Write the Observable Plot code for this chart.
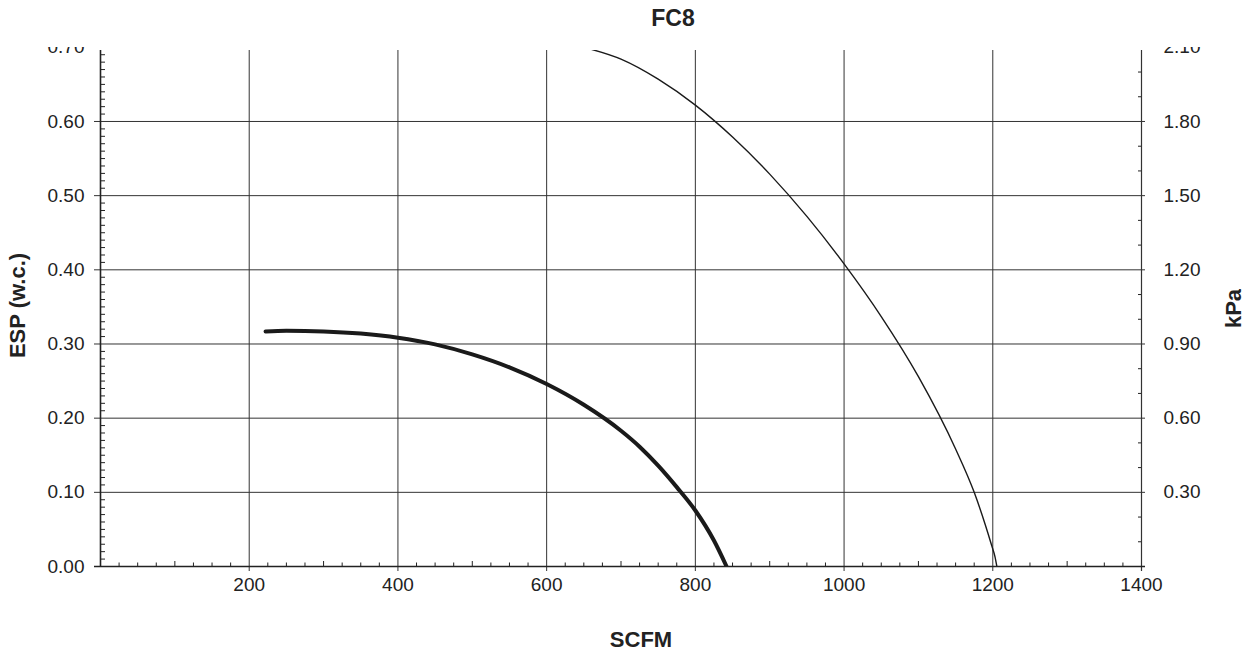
<!DOCTYPE html>
<html><head><meta charset="utf-8">
<script src="https://cdn.jsdelivr.net/npm/d3@7"></script>
<script src="https://cdn.jsdelivr.net/npm/@observablehq/plot@0.6"></script>
<style>
body{margin:0;background:#fff;font-family:"Liberation Sans",Arial,sans-serif;}
#wrap{position:relative;width:1247px;height:654px;overflow:hidden;background:#fff;}
#title{position:absolute;top:5px;left:0;width:1346px;text-align:center;font-weight:bold;font-size:23px;color:#222;}
#chart{position:absolute;top:47px;left:0;}
</style></head><body>
<div id="wrap"><div id="title">FC8</div><div id="chart"></div></div>
<script>
// Fan curve (thick)
const cfmLow = [222, 250, 300, 350, 400, 450, 500, 550, 600, 650, 700, 725, 750, 775, 800, 825, 842];
const espLow = [0.317, 0.318, 0.317, 0.314, 0.3085, 0.2995, 0.286, 0.2685, 0.246, 0.218, 0.183, 0.1615, 0.136, 0.107, 0.0755, 0.035, 0.0];
// Fan curve (thin)
const cfmHigh = [650, 700, 750, 800, 850, 900, 950, 1000, 1050, 1100, 1150, 1175, 1190, 1198, 1203, 1205.5];
const espHigh = [0.700, 0.684, 0.657, 0.622, 0.579, 0.529, 0.472, 0.408, 0.337, 0.256, 0.1585, 0.100, 0.056, 0.030, 0.013, 0.0];

const xTicks = [200, 400, 600, 800, 1000, 1200, 1400];
const yTicks = [0.0, 0.1, 0.2, 0.3, 0.4, 0.5, 0.6, 0.7];
const kpaTickPos = [0.1, 0.2, 0.3, 0.4, 0.5, 0.6, 0.7];
const kpaLabels = ["0.30", "0.60", "0.90", "1.20", "1.50", "1.80", "2.10"];

const low = cfmLow.map((c, i) => ({cfm: c, esp: espLow[i]}));
const high = cfmHigh.map((c, i) => ({cfm: c, esp: espHigh[i]}));
const kpaTicks = kpaTickPos.map((p, i) => ({p, label: kpaLabels[i]}));

const W = 1247, H = 607, mL = 100, mR = 106, mT = 3, mB = 88;
const fw = W - mL - mR, fh = H - mT - mB;
const ink = "#222";

const gridY = yTicks.filter(v => v > 0 && v < 0.65);
const gridX = xTicks.filter(v => v < 1400);
const minorY = d3.range(1, 70).map(i => i / 100).filter(v => Math.round(v * 100) % 10 !== 0);
const kpaMinor = d3.range(1, 21).map(i => i / 30).filter(v => Math.round(v * 30) % 3 !== 0);
const minorX = d3.range(25, 1400, 25).filter(v => v % 100 !== 0);
const medX = d3.range(100, 1400, 100).filter(v => v % 200 !== 0);

const chart = Plot.plot({
  width: W, height: H,
  marginLeft: mL, marginRight: mR, marginTop: mT, marginBottom: mB,
  x: {domain: [0, 1400], axis: null},
  y: {domain: [0, 0.6957], axis: null},
  style: {fontFamily: '"Liberation Sans", Arial, sans-serif', fontSize: "19px", color: ink, background: "white", overflow: "hidden"},
  marks: [
    Plot.ruleY(gridY, {stroke: "#333", strokeWidth: 1, insetLeft: -6, insetRight: -4}),
    Plot.ruleX(gridX, {stroke: "#333", strokeWidth: 1, insetBottom: -5}),
    Plot.ruleX([1400], {stroke: "#333", strokeWidth: 1.2, insetBottom: -5}),
    Plot.ruleX([0], {stroke: ink, strokeWidth: 1.6}),
    Plot.ruleY([0], {stroke: ink, strokeWidth: 1.6, insetLeft: -6, insetRight: -4}),
    Plot.ruleY(minorY, {stroke: ink, strokeWidth: 1, insetRight: fw - 5}),
    Plot.ruleY(kpaMinor, {stroke: ink, strokeWidth: 1, insetLeft: fw - 3}),
    Plot.ruleX(minorX, {stroke: ink, strokeWidth: 1, insetTop: fh - 3.5}),
    Plot.ruleX(medX, {stroke: ink, strokeWidth: 1, insetTop: fh - 5}),
    Plot.line(low, {x: "cfm", y: "esp", stroke: "#1a1a1a", strokeWidth: 4, curve: "monotone-x", clip: true}),
    Plot.line(high, {x: "cfm", y: "esp", stroke: "#1a1a1a", strokeWidth: 1.4, curve: "monotone-x", clip: true}),
    Plot.text(yTicks, {y: d => d, text: d3.format(".2f"), frameAnchor: "left", dx: -16, textAnchor: "end", fill: ink}),
    Plot.text(kpaTicks, {y: "p", text: "label", frameAnchor: "right", dx: 22, textAnchor: "start", fill: ink}),
    Plot.text(xTicks, {x: d => d, text: d => String(d), frameAnchor: "bottom", dy: 24, fill: ink}),
    Plot.text(["SCFM"], {text: d => d, frameAnchor: "bottom", dx: 20, dy: 80, fontWeight: "bold", fontSize: 22, fill: ink}),
    Plot.text(["ESP (w.c.)"], {text: d => d, frameAnchor: "left", textAnchor: "middle", dx: -83, dy: -3, rotate: -90, fontWeight: "bold", fontSize: 22, fill: ink}),
    Plot.text(["kPa"], {text: d => d, frameAnchor: "right", textAnchor: "middle", dx: 92, dy: 0, rotate: -90, fontWeight: "bold", fontSize: 22, fill: ink})
  ]
});
document.getElementById("chart").appendChild(chart);
</script>
</body></html>
